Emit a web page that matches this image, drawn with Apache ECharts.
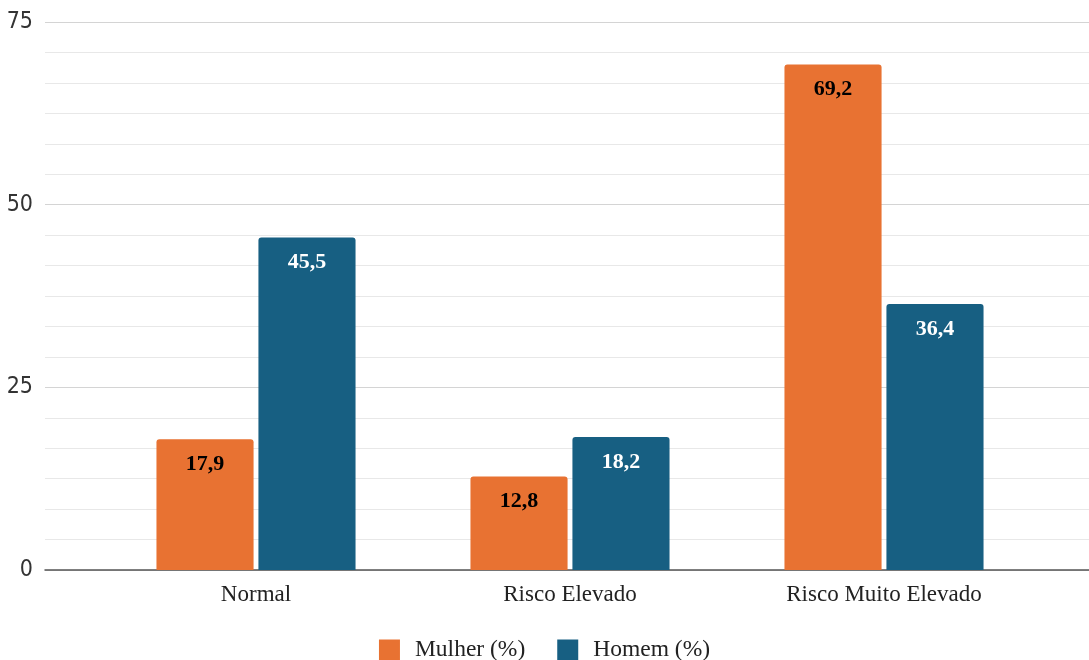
<!DOCTYPE html>
<html>
<head>
<meta charset="utf-8">
<script src="https://cdn.jsdelivr.net/npm/echarts@6/dist/echarts.min.js"></script>
<style>html,body{margin:0;padding:0;background:#fff}#c{width:1089px;height:660px}</style>
</head>
<body>
<div id="c"></div>
<script>
const categories = ['Normal', 'Risco Elevado', 'Risco Muito Elevado'];
const mulher = [17.9, 12.8, 69.2];
const homem = [45.5, 18.2, 36.4];
const seriesNames = ['Mulher (%)', 'Homem (%)'];
const yMin = 0, yMax = 75, yInterval = 25;

const serif = '"Liberation Serif", "Times New Roman", serif';
const narrow = '"DejaVu Sans Condensed", "Liberation Sans Narrow", sans-serif';
const chart = echarts.init(document.getElementById('c'));
const fmt = p => String(p.value).replace('.', ',');
chart.setOption({
  animation: false,
  grid: [
    {left: 45, right: 0, top: 22, bottom: 90},
    {left: 99, right: 48, top: 22, bottom: 90}
  ],
  legend: {
    top: 633, left: 'center',
    itemWidth: 21, itemHeight: 21, itemGap: 32,
    icon: 'rect',
    textStyle: {fontFamily: serif, fontSize: 23.5, color: '#222', padding: [0, 0, 0, 10]},
    data: seriesNames
  },
  xAxis: [
    {gridIndex: 0, type: 'category', data: [''],
     axisLine: {show: true, lineStyle: {color: '#555', width: 1.5}},
     axisTick: {show: false}, axisLabel: {show: false}, splitLine: {show: false}},
    {gridIndex: 1, type: 'category', data: categories,
     axisLine: {show: false}, axisTick: {show: false},
     axisLabel: {fontFamily: serif, fontSize: 23, color: '#222', margin: 13}}
  ],
  yAxis: [
    {gridIndex: 0, type: 'value', min: yMin, max: yMax, interval: yInterval,
     axisLine: {show: false}, axisTick: {show: false},
     axisLabel: {fontFamily: narrow, fontSize: 23, color: '#333', margin: 12, padding: [4, 0, 0, 0]},
     splitLine: {lineStyle: {color: '#d4d4d4', width: 1.2}},
     minorTick: {show: false, splitNumber: 6},
     minorSplitLine: {show: true, lineStyle: {color: '#e8e8e8', width: 1.2}}},
    {gridIndex: 1, type: 'value', min: yMin, max: yMax, interval: yInterval, show: false,
     splitLine: {show: false}}
  ],
  series: [
    {name: seriesNames[0], type: 'bar', xAxisIndex: 1, yAxisIndex: 1, data: mulher,
     barGap: '5%', barCategoryGap: '36.6%',
     itemStyle: {color: '#E87232', borderRadius: [3, 3, 0, 0]},
     label: {show: true, position: 'insideTop', distance: 14, formatter: fmt,
       fontFamily: serif, fontWeight: 'bold', fontSize: 22, color: '#000'}},
    {name: seriesNames[1], type: 'bar', xAxisIndex: 1, yAxisIndex: 1, data: homem,
     barGap: '5%', barCategoryGap: '36.6%',
     itemStyle: {color: '#175F82', borderRadius: [3, 3, 0, 0]},
     label: {show: true, position: 'insideTop', distance: 14, formatter: fmt,
       fontFamily: serif, fontWeight: 'bold', fontSize: 22, color: '#fff'}}
  ]
});
</script>
</body>
</html>
